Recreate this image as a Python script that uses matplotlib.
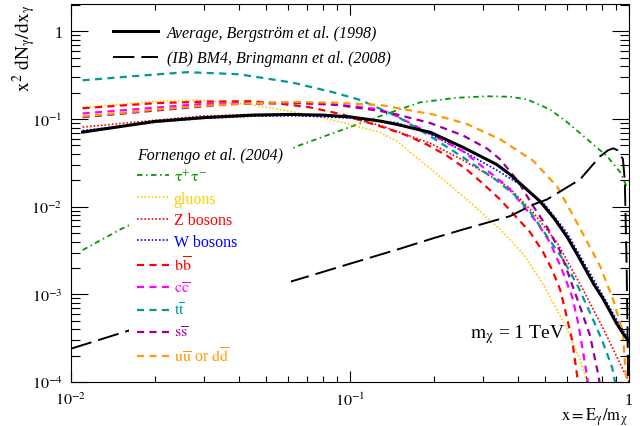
import matplotlib.pyplot as plt
from matplotlib.lines import Line2D

plt.rcParams['font.family'] = ['Liberation Serif', 'DejaVu Serif']
plt.rcParams['mathtext.fontset'] = 'stix'

# --- Data ---
avg_x = [0.011, 0.02, 0.03, 0.045, 0.061, 0.08, 0.1, 0.128, 0.147, 0.194, 0.254, 0.335, 0.374,
         0.48, 0.54, 0.6, 0.65, 0.7, 0.75, 0.8, 0.85, 0.9, 0.95, 1.0]
avg_y = [0.071, 0.094, 0.104, 0.111, 0.113, 0.111, 0.106, 0.095, 0.087, 0.0706, 0.0476, 0.0304, 0.0234,
         0.0115, 0.0073, 0.0045, 0.0029, 0.0019, 0.00128, 0.00093, 0.00066, 0.00047, 0.00036, 0.00029]

ib_x = [0.01, 0.015, 0.02, 0.03, 0.05, 0.065, 0.1, 0.15, 0.2, 0.254, 0.374, 0.453, 0.508, 0.667,
        0.787, 0.84, 0.877, 0.91, 0.95, 0.965, 0.98, 0.995]
ib_y = [0.00024, 0.00036, 0.00048, 0.0007, 0.00115, 0.00148, 0.00224, 0.0033, 0.0044, 0.0055, 0.0078,
        0.0106, 0.0121, 0.0205, 0.0376, 0.044, 0.0464, 0.044, 0.035, 0.02, 0.002, 0.00005]

tau_x = [0.011, 0.015, 0.02, 0.03, 0.045, 0.0645, 0.09, 0.128, 0.178, 0.24, 0.31, 0.374, 0.43,
         0.52, 0.6, 0.707, 0.834, 0.93, 0.99]
tau_y = [0.0032, 0.0055, 0.0085, 0.0156, 0.0286, 0.049, 0.072, 0.108, 0.155, 0.175, 0.182, 0.18, 0.168,
         0.129, 0.092, 0.059, 0.0376, 0.0247, 0.0158]

glu_x = [0.011, 0.02, 0.029, 0.044, 0.0575, 0.076, 0.094, 0.128, 0.147, 0.21, 0.276, 0.345, 0.417,
         0.5, 0.6, 0.667, 0.707, 0.73]
glu_y = [0.136, 0.159, 0.165, 0.147, 0.127, 0.108, 0.091, 0.0706, 0.056, 0.022, 0.0105, 0.0055, 0.0029,
         0.0012, 0.0004, 0.00018, 0.0001, 0.00007]

z_x = [0.011, 0.02, 0.029, 0.045, 0.065, 0.085, 0.1, 0.128, 0.194, 0.254, 0.3, 0.372, 0.45, 0.552,
       0.684, 0.81, 0.93, 1.0]
z_y = [0.081, 0.097, 0.108, 0.113, 0.113, 0.108, 0.103, 0.085, 0.053, 0.034, 0.025, 0.0165, 0.0088,
       0.0039, 0.00113, 0.0004, 0.00016, 0.0001]

w_x = [0.011, 0.02, 0.03, 0.045, 0.065, 0.1, 0.147, 0.194, 0.254, 0.335, 0.4, 0.5, 0.6, 0.7, 0.8, 0.9, 1.0]
w_y = [0.074, 0.092, 0.102, 0.108, 0.109, 0.103, 0.091, 0.067, 0.043, 0.0262, 0.0185, 0.0105, 0.005,
       0.0021, 0.00101, 0.00052, 0.0003]

bb_x = [0.011, 0.02, 0.03, 0.044, 0.055, 0.072, 0.094, 0.115, 0.131, 0.16, 0.189, 0.223, 0.262, 0.30,
        0.345, 0.44, 0.49, 0.53, 0.566, 0.59, 0.625, 0.656, 0.68]
bb_y = [0.133, 0.152, 0.158, 0.16, 0.151, 0.136, 0.113, 0.092, 0.081, 0.065, 0.051, 0.038, 0.0265,
        0.0182, 0.0121, 0.0052, 0.0031, 0.0019, 0.00113, 0.00066, 0.0003, 0.0001, 0.00006]

cc_x = [0.011, 0.02, 0.029, 0.045, 0.066, 0.09, 0.128, 0.147, 0.194, 0.254, 0.366, 0.468, 0.521, 0.575,
        0.625, 0.656, 0.684, 0.707, 0.72]
cc_y = [0.116, 0.135, 0.148, 0.153, 0.154, 0.147, 0.129, 0.108, 0.0680, 0.043, 0.017, 0.0066, 0.0039,
        0.0019, 0.00094, 0.00048, 0.00022, 0.000115, 0.00008]

tt_x = [0.011, 0.017, 0.026, 0.04, 0.0625, 0.087, 0.109, 0.147, 0.194, 0.254, 0.335, 0.39, 0.441,
        0.508, 0.58, 0.656, 0.724, 0.8, 0.869, 0.92]
tt_y = [0.277, 0.31, 0.343, 0.325, 0.26, 0.202, 0.165, 0.108, 0.0636, 0.0366, 0.020, 0.0135, 0.0088,
        0.0046, 0.0025, 0.00123, 0.00062, 0.0003, 0.000147, 0.00006]

ss_x = [0.011, 0.02, 0.03, 0.04, 0.066, 0.09, 0.128, 0.147, 0.194, 0.254, 0.31, 0.345, 0.4, 0.45,
        0.509, 0.566, 0.61, 0.667, 0.724, 0.768, 0.8]
ss_y = [0.105, 0.125, 0.14, 0.15, 0.152, 0.145, 0.124, 0.113, 0.09, 0.065, 0.046, 0.0347, 0.0195, 0.0105,
        0.0058, 0.0031, 0.0016, 0.00072, 0.00034, 0.00014, 0.00007]

uu_x = [0.011, 0.02, 0.03, 0.045, 0.066, 0.087, 0.128, 0.198, 0.262, 0.345, 0.453, 0.552, 0.65, 0.787,
        0.877, 0.95, 0.97, 1.0]
uu_y = [0.107, 0.128, 0.142, 0.152, 0.157, 0.154, 0.145, 0.113, 0.088, 0.0588, 0.0335, 0.017, 0.0066,
        0.0021, 0.00087, 0.00037, 0.00014, 0.00006]

xticks = [0.01, 0.1, 1]
xticklabels = [r'$10^{-2}$', r'$10^{-1}$', '1']
yticks = [1e-4, 1e-3, 1e-2, 1e-1, 1]
yticklabels = [r'$10^{-4}$', r'$10^{-3}$', r'$10^{-2}$', r'$10^{-1}$', '1']

# --- Figure ---
fig = plt.figure(figsize=(6.4, 4.27), dpi=100)
ax = fig.add_axes([0.111, 0.103, 0.872, 0.885])
ax.set_xscale('log')
ax.set_yscale('log')

dash = (0, (3.2, 2.4))
dot = (0, (1, 1.2))
fornengo = [
    (tau_x, tau_y, '#009900', (0, (3, 2, 0.8, 2)), 1.3, r'$\mathrm{\tau^{+}\tau^{-}}$'),
    (glu_x, glu_y, '#ffcc00', dot, 1.2, 'gluons'),
    (z_x, z_y, '#ff0000', dot, 1.2, 'Z bosons'),
    (w_x, w_y, '#0000ff', dot, 1.2, 'W bosons'),
    (bb_x, bb_y, '#ff0000', dash, 1.6, r'$\mathrm{b\overline{b}}$'),
    (cc_x, cc_y, '#ff00ff', dash, 1.6, r'$\mathrm{c\overline{c}}$'),
    (tt_x, tt_y, '#009999', dash, 1.6, r'$\mathrm{t\overline{t}}$'),
    (ss_x, ss_y, '#990099', dash, 1.6, r'$\mathrm{s\overline{s}}$'),
    (uu_x, uu_y, '#ff9900', dash, 1.6, r'$\mathrm{u\overline{u}}$ or $\mathrm{d\overline{d}}$'),
]
handles2 = []
for xs, ys, c, ls, lw, lab in fornengo:
    h, = ax.plot(xs, ys, color=c, linestyle=ls, lw=lw, label=lab)
    handles2.append(h)

h_avg, = ax.plot(avg_x, avg_y, color='black', lw=2.2)
h_ib, = ax.plot(ib_x, ib_y, color='black', lw=1.4, linestyle=(0, (11, 3.6)))

ax.set_xlim(0.01, 1)
ax.set_ylim(1e-4, 2.05)
ax.set_xticks(xticks)
ax.set_xticklabels(xticklabels, fontsize=11.5)
ax.set_yticks(yticks)
ax.set_yticklabels(yticklabels, fontsize=11.5)
ax.tick_params(which='both', direction='in', top=True, right=True, width=0.8)
ax.tick_params(axis='x', which='major', length=8, pad=7)
ax.tick_params(axis='x', which='minor', length=4)
ax.tick_params(axis='y', which='major', length=12, pad=6)
ax.tick_params(axis='y', which='minor', length=6.5)
ax.xaxis.set_minor_formatter(plt.NullFormatter())
ax.yaxis.set_minor_formatter(plt.NullFormatter())

ax.set_ylabel(r'$\mathrm{x^{2}\ dN_{\gamma}/dx_{\gamma}}$', fontsize=14, loc='top')
ax.yaxis.set_label_coords(-0.06, 1.0)
ax.set_xlabel(r'$\mathrm{x = E_{\gamma}/m_{\chi}}$', fontsize=12, loc='right', va='top')
ax.xaxis.set_label_coords(0.997, -0.062)

ax.text(0.715, 0.127, r'$\mathrm{m_{\chi}}$ = 1 TeV', transform=ax.transAxes,
        fontsize=14, va='center')

leg1 = ax.legend([h_avg, h_ib],
                 ['Average, Bergström et al. (1998)', '(IB) BM4, Bringmann et al. (2008)'],
                 loc='upper left', bbox_to_anchor=(0.075, 0.945), borderaxespad=0, borderpad=0,
                 frameon=False, prop={'style': 'italic', 'size': 11.5},
                 handlelength=2.85, handletextpad=0.55, labelspacing=0.6)
ax.add_artist(leg1)

leg2 = ax.legend(handles=handles2, loc='upper left', bbox_to_anchor=(0.104, 0.643),
                 borderaxespad=0, borderpad=0.5, frameon=True, fancybox=False,
                 facecolor='white', edgecolor='none', framealpha=1,
                 fontsize=11.5, handlelength=2.0, handletextpad=0.3, labelspacing=0.36,
                 title='Fornengo et al. (2004)', alignment='left',
                 title_fontproperties={'style': 'italic', 'size': 11.5})
for txt, item in zip(leg2.get_texts(), fornengo):
    txt.set_color(item[2])

fig.savefig('out.png', dpi=100)
